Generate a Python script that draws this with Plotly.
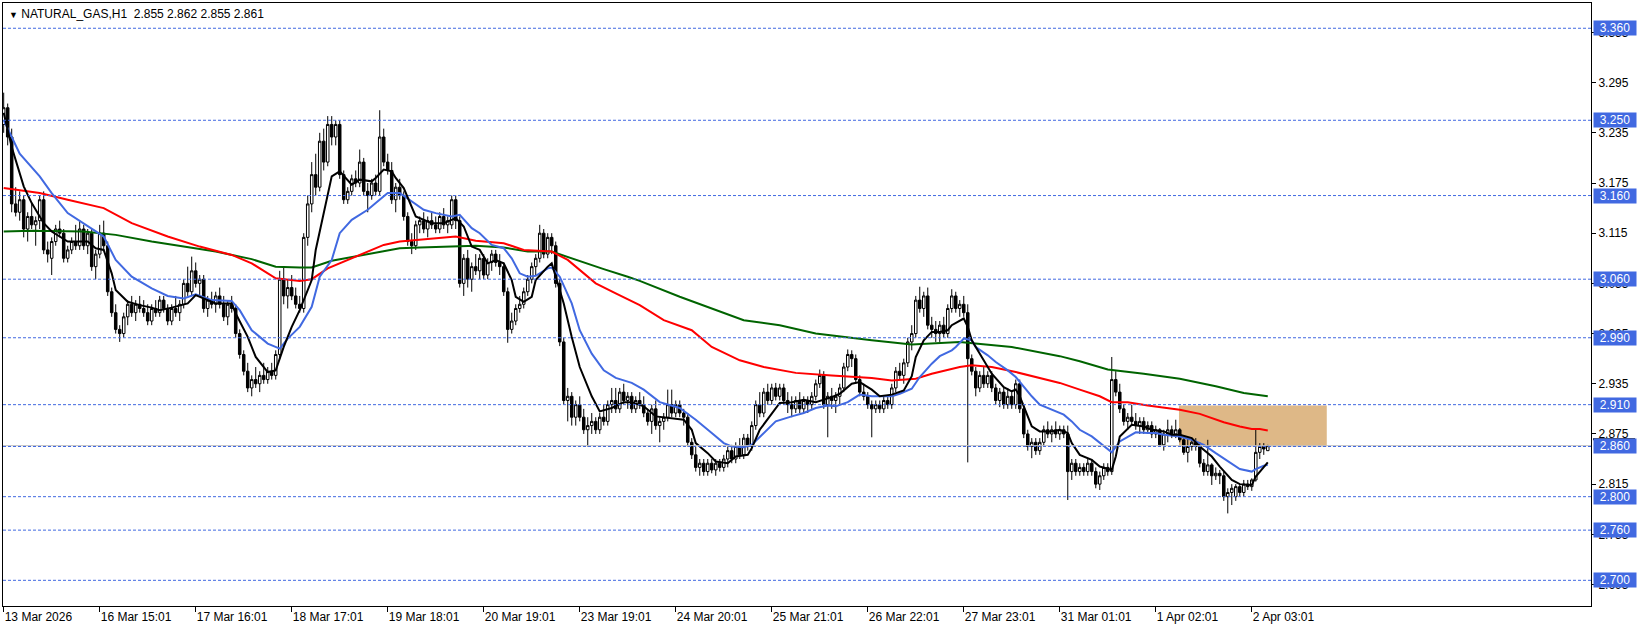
import plotly.graph_objects as go

# ---------------- data ----------------
opens = [
 3.245,3.265,3.230,3.150,3.140,3.155,3.120,3.135,3.125,3.130,
 3.155,3.095,3.085,3.105,3.120,3.115,3.085,3.095,3.105,3.100,
 3.120,3.100,3.115,3.075,3.090,3.115,3.100,3.045,3.020,3.000,
 2.995,3.015,3.030,3.020,3.030,3.025,3.020,3.010,3.025,3.020,
 3.035,3.025,3.010,3.025,3.020,3.030,3.055,3.045,3.070,3.055,
 3.060,3.025,3.035,3.030,3.040,3.030,3.015,3.030,3.025,2.995,
 2.970,2.950,2.930,2.940,2.935,2.945,2.940,2.950,2.945,2.970,
 3.060,3.040,3.050,3.040,3.030,3.025,3.110,3.150,3.185,3.170,
 3.225,3.200,3.245,3.230,3.245,3.185,3.155,3.165,3.180,3.175,
 3.200,3.165,3.160,3.175,3.165,3.230,3.200,3.190,3.155,3.170,
 3.160,3.135,3.105,3.100,3.125,3.130,3.120,3.130,3.125,3.120,
 3.135,3.125,3.125,3.155,3.130,3.055,3.085,3.060,3.075,3.070,
 3.085,3.065,3.080,3.090,3.080,3.075,3.045,3.000,3.010,3.025,
 3.030,3.045,3.060,3.075,3.085,3.115,3.090,3.110,3.100,3.055,
 2.985,2.915,2.920,2.895,2.910,2.895,2.880,2.885,2.890,2.880,
 2.895,2.890,2.910,2.915,2.905,2.925,2.915,2.920,2.905,2.915,
 2.910,2.900,2.890,2.905,2.885,2.890,2.895,2.910,2.900,2.910,
 2.900,2.895,2.865,2.850,2.835,2.840,2.830,2.840,2.832,2.840,
 2.835,2.845,2.855,2.845,2.860,2.850,2.870,2.860,2.885,2.910,
 2.900,2.925,2.915,2.930,2.920,2.930,2.915,2.910,2.905,2.915,
 2.905,2.915,2.910,2.920,2.935,2.945,2.910,2.920,2.915,2.920,
 2.930,2.955,2.970,2.965,2.940,2.925,2.920,2.910,2.905,2.910,
 2.905,2.915,2.910,2.930,2.950,2.945,2.960,2.985,2.995,3.035,
 3.025,3.040,3.005,3.000,2.995,3.005,2.995,3.025,3.040,3.025,
 3.030,3.020,2.965,2.950,2.930,2.945,2.935,2.945,2.930,2.915,
 2.925,2.910,2.920,2.910,2.935,2.905,2.875,2.860,2.865,2.855,
 2.865,2.880,2.875,2.880,2.875,2.880,2.875,2.830,2.840,2.830,
 2.835,2.830,2.840,2.830,2.815,2.825,2.835,2.830,2.940,2.925,
 2.905,2.890,2.895,2.890,2.885,2.890,2.880,2.885,2.875,2.880,
 2.862,2.875,2.880,2.875,2.880,2.868,2.853,2.860,2.865,2.860,
 2.840,2.830,2.838,2.825,2.828,2.825,2.800,2.805,2.800,2.812,
 2.805,2.815,2.812,2.820,2.853,2.860,2.855]
highs = [
 3.283,3.270,3.240,3.170,3.165,3.160,3.140,3.150,3.135,3.160,
 3.165,3.105,3.110,3.125,3.130,3.120,3.100,3.110,3.125,3.130,
 3.125,3.120,3.120,3.095,3.125,3.130,3.105,3.050,3.030,3.005,
 3.020,3.035,3.040,3.035,3.040,3.035,3.030,3.030,3.035,3.040,
 3.040,3.030,3.030,3.040,3.035,3.060,3.075,3.087,3.080,3.065,
 3.065,3.040,3.045,3.045,3.050,3.040,3.035,3.040,3.030,3.000,
 2.975,2.960,2.945,2.955,2.950,2.960,2.955,2.960,2.975,3.070,
 3.075,3.060,3.065,3.050,3.040,3.115,3.160,3.200,3.210,3.235,
 3.240,3.255,3.255,3.250,3.250,3.190,3.170,3.185,3.190,3.215,
 3.205,3.175,3.180,3.185,3.262,3.240,3.210,3.200,3.175,3.180,
 3.165,3.140,3.115,3.130,3.135,3.140,3.135,3.140,3.135,3.140,
 3.145,3.135,3.160,3.160,3.135,3.090,3.095,3.080,3.090,3.090,
 3.090,3.085,3.095,3.095,3.090,3.080,3.050,3.020,3.030,3.040,
 3.050,3.065,3.080,3.090,3.125,3.120,3.115,3.115,3.105,3.060,
 2.990,2.930,2.925,2.915,2.920,2.905,2.895,2.900,2.895,2.900,
 2.910,2.915,2.930,2.930,2.930,2.935,2.925,2.925,2.920,2.925,
 2.920,2.905,2.910,2.915,2.895,2.900,2.928,2.928,2.915,2.915,
 2.905,2.900,2.870,2.860,2.845,2.845,2.845,2.845,2.845,2.845,
 2.850,2.860,2.862,2.865,2.870,2.875,2.875,2.890,2.915,2.925,
 2.930,2.935,2.935,2.936,2.935,2.935,2.925,2.920,2.920,2.925,
 2.920,2.920,2.925,2.940,2.952,2.950,2.925,2.930,2.925,2.935,
 2.960,2.976,2.975,2.970,2.945,2.935,2.925,2.915,2.915,2.915,
 2.920,2.920,2.935,2.955,2.960,2.965,2.990,3.005,3.040,3.051,
 3.045,3.050,3.015,3.010,3.010,3.015,3.030,3.048,3.045,3.035,
 3.040,3.030,2.970,2.955,2.950,2.955,2.950,2.950,2.935,2.930,
 2.930,2.930,2.925,2.940,2.940,2.910,2.880,2.870,2.870,2.870,
 2.885,2.890,2.885,2.890,2.885,2.885,2.885,2.845,2.845,2.840,
 2.840,2.845,2.845,2.835,2.830,2.840,2.840,2.967,2.950,2.935,
 2.910,2.900,2.910,2.900,2.895,2.895,2.890,2.890,2.885,2.882,
 2.880,2.892,2.885,2.892,2.882,2.870,2.870,2.868,2.870,2.865,
 2.845,2.868,2.840,2.835,2.832,2.830,2.810,2.815,2.815,2.815,
 2.820,2.820,2.822,2.880,2.864,2.864,2.862]
lows = [
 3.235,3.220,3.140,3.135,3.130,3.110,3.105,3.120,3.100,3.120,
 3.090,3.080,3.065,3.100,3.110,3.080,3.080,3.090,3.095,3.095,
 3.095,3.090,3.070,3.060,3.085,3.095,3.040,3.015,2.995,2.985,
 2.990,3.005,3.015,3.010,3.020,3.015,3.005,3.005,3.015,3.015,
 3.020,3.005,3.005,3.015,3.010,3.025,3.040,3.040,3.050,3.040,
 3.020,3.015,3.025,3.020,3.025,3.010,3.005,3.020,2.990,2.965,
 2.945,2.925,2.920,2.930,2.925,2.935,2.935,2.940,2.940,2.965,
 3.030,3.025,3.035,3.025,3.020,3.020,3.100,3.140,3.160,3.165,
 3.190,3.195,3.220,3.220,3.180,3.150,3.150,3.160,3.170,3.170,
 3.160,3.140,3.155,3.160,3.160,3.195,3.185,3.150,3.140,3.155,
 3.130,3.100,3.090,3.095,3.115,3.115,3.110,3.120,3.115,3.115,
 3.120,3.115,3.120,3.120,3.050,3.040,3.050,3.045,3.065,3.060,
 3.060,3.060,3.070,3.075,3.065,3.040,2.984,2.995,3.005,3.020,
 3.025,3.040,3.055,3.065,3.080,3.085,3.085,3.090,3.050,2.980,
 2.910,2.890,2.885,2.885,2.890,2.875,2.860,2.875,2.875,2.875,
 2.885,2.885,2.900,2.900,2.900,2.910,2.905,2.900,2.900,2.905,
 2.895,2.885,2.875,2.880,2.865,2.880,2.890,2.895,2.895,2.895,
 2.885,2.860,2.845,2.830,2.825,2.825,2.825,2.828,2.825,2.830,
 2.830,2.835,2.840,2.840,2.845,2.845,2.855,2.855,2.880,2.895,
 2.895,2.910,2.910,2.915,2.915,2.910,2.900,2.895,2.900,2.900,
 2.900,2.900,2.905,2.915,2.930,2.905,2.871,2.905,2.900,2.910,
 2.925,2.950,2.955,2.935,2.920,2.915,2.905,2.871,2.900,2.900,
 2.900,2.905,2.905,2.925,2.940,2.935,2.955,2.975,2.990,3.020,
 3.015,3.000,2.990,2.985,2.985,2.990,2.990,3.020,3.020,3.015,
 3.015,2.841,2.945,2.920,2.925,2.930,2.930,2.925,2.910,2.907,
 2.905,2.905,2.905,2.905,2.900,2.870,2.855,2.846,2.850,2.850,
 2.860,2.870,2.865,2.870,2.868,2.870,2.796,2.820,2.825,2.825,
 2.825,2.825,2.825,2.810,2.808,2.820,2.825,2.826,2.920,2.900,
 2.885,2.880,2.885,2.880,2.875,2.875,2.875,2.870,2.870,2.860,
 2.855,2.865,2.870,2.870,2.865,2.850,2.841,2.855,2.855,2.835,
 2.825,2.825,2.814,2.820,2.815,2.795,2.780,2.790,2.795,2.800,
 2.800,2.808,2.807,2.818,2.845,2.850,2.855]
closes = [
 3.265,3.230,3.150,3.140,3.155,3.120,3.135,3.125,3.130,3.155,
 3.095,3.090,3.105,3.120,3.115,3.085,3.095,3.105,3.100,3.120,
 3.100,3.115,3.075,3.090,3.115,3.100,3.045,3.020,3.000,2.995,
 3.015,3.030,3.020,3.030,3.025,3.020,3.010,3.025,3.020,3.035,
 3.025,3.010,3.025,3.020,3.030,3.055,3.045,3.070,3.055,3.060,
 3.025,3.035,3.030,3.040,3.030,3.015,3.030,3.025,2.995,2.970,
 2.950,2.930,2.940,2.935,2.945,2.940,2.950,2.945,2.970,3.060,
 3.040,3.050,3.040,3.030,3.025,3.110,3.150,3.185,3.170,3.225,
 3.200,3.245,3.230,3.245,3.185,3.155,3.165,3.180,3.175,3.200,
 3.165,3.160,3.175,3.165,3.230,3.200,3.190,3.155,3.170,3.160,
 3.135,3.105,3.100,3.125,3.130,3.120,3.130,3.125,3.120,3.135,
 3.125,3.130,3.155,3.130,3.055,3.085,3.060,3.075,3.070,3.085,
 3.065,3.080,3.090,3.080,3.075,3.045,3.000,3.010,3.025,3.030,
 3.045,3.060,3.075,3.085,3.115,3.090,3.110,3.100,3.055,2.985,
 2.915,2.920,2.895,2.910,2.895,2.880,2.885,2.890,2.880,2.895,
 2.890,2.910,2.915,2.905,2.925,2.915,2.920,2.905,2.915,2.910,
 2.900,2.890,2.905,2.885,2.890,2.895,2.910,2.900,2.910,2.900,
 2.895,2.865,2.850,2.835,2.840,2.830,2.840,2.832,2.840,2.835,
 2.845,2.855,2.845,2.860,2.850,2.870,2.860,2.885,2.910,2.900,
 2.925,2.915,2.930,2.920,2.930,2.915,2.910,2.905,2.915,2.905,
 2.915,2.910,2.920,2.935,2.945,2.910,2.920,2.915,2.920,2.930,
 2.955,2.970,2.965,2.940,2.925,2.920,2.910,2.905,2.910,2.905,
 2.915,2.910,2.930,2.950,2.945,2.960,2.985,2.995,3.035,3.025,
 3.040,3.005,3.000,2.995,3.005,2.995,3.025,3.040,3.025,3.030,
 3.020,2.965,2.950,2.930,2.945,2.935,2.945,2.930,2.915,2.925,
 2.910,2.920,2.910,2.935,2.905,2.875,2.860,2.865,2.855,2.865,
 2.880,2.875,2.880,2.875,2.880,2.875,2.830,2.840,2.830,2.835,
 2.830,2.840,2.830,2.815,2.825,2.835,2.830,2.940,2.925,2.905,
 2.890,2.895,2.890,2.885,2.890,2.880,2.885,2.875,2.880,2.862,
 2.875,2.880,2.875,2.880,2.868,2.853,2.860,2.865,2.860,2.840,
 2.830,2.838,2.825,2.828,2.825,2.800,2.805,2.810,2.812,2.805,
 2.815,2.812,2.820,2.853,2.860,2.857,2.861]

# moving averages (bar number, value)
black_bar = [0,2,5,7,10,12,16,21,23,25,27,28,31,34,37,39,42,46,48,51,
 53,57,58,61,63,66,68,70,72,74,77,78,81,82,84,87,89,92,93,95,
 97,98,100,102,103,107,110,113,115,117,119,121,123,125,127,128,130,132,133,136,
 137,138,140,142,144,147,149,152,155,157,160,163,167,170,172,173,176,178,181,183,
 186,187,189,192,194,197,200,203,207,209,212,214,217,219,222,225,227,228,230,232,
 234,236,237,240,241,242,245,247,250,252,253,254,256,257,259,262,264,266,267,269,
 272,274,277,278,279,281,282,285,287,290,292,294,297,299,302,304,307,309,312,313,
 315,316]
black_val = [3.259,3.218,3.171,3.151,3.127,3.117,3.105,3.105,3.097,3.095,
 3.067,3.047,3.033,3.029,3.026,3.023,3.026,3.031,3.041,3.035,
 3.031,3.031,3.019,2.991,2.967,2.949,2.951,2.979,3.003,3.023,
 3.059,3.095,3.159,3.183,3.189,3.173,3.179,3.177,3.181,3.191,
 3.189,3.181,3.169,3.146,3.135,3.127,3.127,3.133,3.123,3.099,
 3.095,3.079,3.083,3.079,3.059,3.039,3.033,3.039,3.059,3.075,
 3.079,3.063,3.031,2.991,2.955,2.920,2.902,2.906,2.913,2.913,
 2.908,2.896,2.894,2.892,2.880,2.864,2.852,2.842,2.840,2.848,
 2.850,2.858,2.880,2.900,2.912,2.913,2.916,2.913,2.919,2.923,
 2.935,2.937,2.928,2.920,2.922,2.927,2.944,2.967,2.987,2.997,
 2.997,2.999,3.005,3.013,3.003,2.987,2.963,2.947,2.931,2.926,
 2.928,2.920,2.896,2.884,2.878,2.878,2.880,2.876,2.864,2.850,
 2.844,2.836,2.832,2.848,2.872,2.882,2.886,2.884,2.880,2.878,
 2.874,2.874,2.870,2.860,2.848,2.836,2.820,2.815,2.814,2.824,
 2.836,2.841]

blue_bar = [0,4,9,12,16,21,25,28,32,37,41,45,48,52,57,59,62,66,69,71,
 74,77,79,82,84,87,91,93,96,99,102,105,108,112,114,117,119,122,125,127,
 129,131,133,136,137,139,142,144,147,150,153,157,160,164,169,173,177,180,182,185,
 187,190,193,197,200,203,206,208,211,214,217,222,224,227,229,232,234,237,238,240,
 242,243,246,248,251,253,255,257,259,262,265,267,269,272,274,277,279,281,283,286,
 288,290,294,297,300,303,307,309,312,313,315,316]
blue_val = [3.250,3.210,3.183,3.163,3.139,3.123,3.111,3.083,3.063,3.049,
 3.040,3.037,3.042,3.035,3.034,3.023,2.999,2.983,2.977,2.989,
 3.003,3.027,3.063,3.083,3.115,3.131,3.143,3.151,3.163,3.163,
 3.153,3.143,3.139,3.135,3.137,3.121,3.115,3.101,3.097,3.085,
 3.067,3.063,3.064,3.073,3.074,3.063,3.031,2.999,2.971,2.951,
 2.942,2.936,2.928,2.913,2.906,2.892,2.876,2.864,2.860,2.859,
 2.862,2.876,2.890,2.896,2.900,2.906,2.909,2.908,2.913,2.922,
 2.920,2.920,2.923,2.929,2.943,2.959,2.968,2.975,2.979,2.989,
 2.987,2.979,2.969,2.961,2.951,2.943,2.931,2.920,2.910,2.904,
 2.898,2.890,2.880,2.872,2.864,2.853,2.866,2.872,2.877,2.876,
 2.876,2.874,2.872,2.868,2.862,2.852,2.840,2.833,2.830,2.833,
 2.837,2.838]

red_bar = [0,9,16,25,32,41,49,57,62,68,74,77,81,87,95,99,104,110,113,118,
 125,130,137,141,145,148,153,159,165,172,177,184,190,198,207,217,222,228,232,239,
 242,247,253,259,264,269,274,277,281,286,289,294,299,305,309,312,314,316]
red_val = [3.169,3.163,3.155,3.145,3.127,3.111,3.099,3.089,3.079,3.061,
 3.058,3.060,3.073,3.085,3.101,3.105,3.107,3.109,3.111,3.106,
 3.103,3.095,3.093,3.083,3.067,3.055,3.043,3.029,3.011,2.999,
 2.979,2.963,2.955,2.948,2.945,2.942,2.939,2.941,2.947,2.955,
 2.957,2.955,2.949,2.942,2.936,2.928,2.920,2.913,2.913,2.909,
 2.907,2.904,2.899,2.889,2.884,2.881,2.881,2.879]

green_bar = [0,7,20,28,37,45,53,62,68,74,77,82,91,99,104,110,118,125,131,137,
 143,150,156,159,169,185,194,203,217,227,239,252,264,269,276,285,294,303,310,316]
green_val = [3.117,3.118,3.117,3.113,3.105,3.099,3.093,3.084,3.075,3.074,
 3.074,3.082,3.090,3.097,3.098,3.099,3.100,3.098,3.093,3.093,
 3.083,3.072,3.063,3.058,3.039,3.011,3.005,2.995,2.987,2.982,
 2.985,2.979,2.968,2.962,2.952,2.947,2.941,2.932,2.924,2.920]

tick_bars = [0,24,48,72,96,120,144,168,192,216,240,264,288,312]
tick_labels = ["13 Mar 2026","16 Mar 15:01","17 Mar 16:01","18 Mar 17:01",
 "19 Mar 18:01","20 Mar 19:01","23 Mar 19:01","24 Mar 20:01","25 Mar 21:01",
 "26 Mar 22:01","27 Mar 23:01","31 Mar 01:01","1 Apr 02:01","2 Apr 03:01"]

y_ticks = [2.695,2.755,2.815,2.875,2.935,2.995,3.055,3.115,3.175,3.235,3.295,3.355]
levels = [3.360,3.250,3.160,3.060,2.990,2.910,2.860,2.800,2.760,2.700]
bid_price = 2.861
zone_bars = [293.8, 330.75]
zone_prices = [2.860, 2.909]
header = "NATURAL_GAS,H1\u00a0\u00a02.855 2.862 2.855 2.861"

# ---------------- figure ----------------
FONT = "Liberation Sans, Arial, sans-serif"
LVL_BLUE = "#4169E1"
fig = go.Figure()

fig.add_trace(go.Candlestick(
    x=list(range(len(closes))), open=opens, high=highs, low=lows, close=closes,
    increasing=dict(line=dict(color="black", width=1), fillcolor="white"),
    decreasing=dict(line=dict(color="black", width=1), fillcolor="black"),
    whiskerwidth=0, hoverinfo="skip"))

for bx, vals, col in [(green_bar, green_val, "#006400"), (red_bar, red_val, "#FF0000"),
                      (blue_bar, blue_val, LVL_BLUE), (black_bar, black_val, "#000000")]:
    fig.add_trace(go.Scatter(x=bx, y=vals, mode="lines",
                             line=dict(color=col, width=2), hoverinfo="skip"))

shapes = []
shapes.append(dict(type="rect", xref="x", yref="y", x0=zone_bars[0], x1=zone_bars[1],
                   y0=zone_prices[0], y1=zone_prices[1], fillcolor="#DEB887",
                   line=dict(width=0), layer="below"))
shapes.append(dict(type="line", xref="paper", yref="y", x0=0, x1=1, y0=bid_price, y1=bid_price,
                   line=dict(color="#C0C0C0", width=1)))
for lv in levels:
    shapes.append(dict(type="line", xref="paper", yref="y", x0=0, x1=1, y0=lv, y1=lv,
                       line=dict(color=LVL_BLUE, width=1, dash="3px,2px")))
shapes.append(dict(type="line", xref="paper", yref="y", x0=1 + 2/1588, x1=1 + 44/1588,
                   y0=2.8686, y1=2.8686, line=dict(color="black", width=2)))

annotations = []
for lv in levels:
    annotations.append(dict(xref="paper", yref="y", x=1, y=lv, xanchor="left", yanchor="middle",
                            xshift=2, text=f"{lv:.3f}", showarrow=False,
                            font=dict(family=FONT, size=12, color="white"),
                            bgcolor=LVL_BLUE, width=40, height=12, borderpad=1, align="center"))
annotations.append(dict(xref="paper", yref="paper", x=0, y=1, xanchor="left", yanchor="top",
                        xshift=4, yshift=-2, showarrow=False,
                        text="<span style='font-size:9px'>\u25bc</span> " + header,
                        font=dict(family=FONT, size=12, color="black")))

fig.update_layout(
    width=1641, height=630, margin=dict(l=3, r=50, t=3, b=24, autoexpand=False),
    paper_bgcolor="white", plot_bgcolor="white", showlegend=False, hovermode=False,
    font=dict(family=FONT, size=12, color="black"),
    boxgap=0.1,
    shapes=shapes, annotations=annotations,
    xaxis=dict(range=[-0.175, 396.8], showgrid=False, zeroline=False, showline=True,
               linecolor="black", linewidth=1, mirror=True, automargin=False,
               tickmode="array", tickvals=tick_bars, ticktext=tick_labels,
               ticks="outside", ticklen=5, tickcolor="black",
               ticklabelposition="outside right",
               tickfont=dict(family=FONT, size=12, color="black"),
               rangeslider=dict(visible=False), fixedrange=True),
    yaxis=dict(range=[2.6693, 3.3902], side="right", showgrid=False, zeroline=False,
               showline=True, linecolor="black", linewidth=1, mirror=True, automargin=False,
               tickmode="array", tickvals=y_ticks, ticktext=[f"{v:.3f}" for v in y_ticks],
               ticks="outside", ticklen=4, tickcolor="black",
               tickfont=dict(family=FONT, size=12, color="black"), fixedrange=True),
)

fig.write_html("out.html", config={"displayModeBar": False},
               post_script="document.body.style.margin='0px';document.body.style.padding='0px';")
